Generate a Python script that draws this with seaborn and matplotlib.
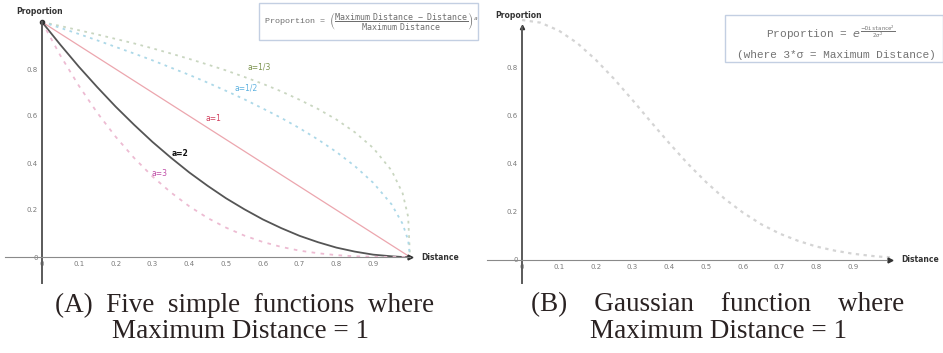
import numpy as np
import pandas as pd
import matplotlib
matplotlib.use("Agg")
import matplotlib.pyplot as plt
from matplotlib.patches import Rectangle
import seaborn as sns

# --- data ---
distance = [0, 0.05, 0.1, 0.15, 0.2, 0.25, 0.3, 0.35, 0.4, 0.45, 0.5, 0.55,
            0.6, 0.65, 0.7, 0.75, 0.8, 0.85, 0.9, 0.95, 0.98, 0.995, 1.0]
prop_a_third = [1, 0.983, 0.965, 0.947, 0.928, 0.909, 0.888, 0.866, 0.843, 0.819, 0.794, 0.766,
                0.737, 0.705, 0.669, 0.630, 0.585, 0.531, 0.464, 0.368, 0.271, 0.171, 0]
prop_a_half = [1, 0.975, 0.949, 0.922, 0.894, 0.866, 0.837, 0.806, 0.775, 0.742, 0.707, 0.671,
               0.632, 0.592, 0.548, 0.500, 0.447, 0.387, 0.316, 0.224, 0.141, 0.071, 0]
prop_a_1 = [1, 0.95, 0.90, 0.85, 0.80, 0.75, 0.70, 0.65, 0.60, 0.55, 0.50, 0.45,
            0.40, 0.35, 0.30, 0.25, 0.20, 0.15, 0.10, 0.05, 0.02, 0.005, 0]
prop_a_2 = [1, 0.903, 0.810, 0.723, 0.640, 0.563, 0.490, 0.423, 0.360, 0.303, 0.250, 0.203,
            0.160, 0.123, 0.090, 0.063, 0.040, 0.023, 0.010, 0.003, 0, 0, 0]
prop_a_3 = [1, 0.857, 0.729, 0.614, 0.512, 0.422, 0.343, 0.275, 0.216, 0.166, 0.125, 0.091,
            0.064, 0.043, 0.027, 0.016, 0.008, 0.003, 0.001, 0, 0, 0, 0]
prop_gauss = [1, 0.989, 0.956, 0.904, 0.835, 0.755, 0.667, 0.576, 0.487, 0.402, 0.325, 0.256,
              0.198, 0.149, 0.110, 0.080, 0.056, 0.039, 0.026, 0.017, 0.013, 0.012, 0.011]

curve_labels = ["a=1/3", "a=1/2", "a=1", "a=2", "a=3"]
label_x = [0.59, 0.555, 0.465, 0.375, 0.318]
label_y = [0.81, 0.72, 0.59, 0.44, 0.355]

x_ticks = [0, 0.1, 0.2, 0.3, 0.4, 0.5, 0.6, 0.7, 0.8, 0.9]
y_ticks = [0, 0.2, 0.4, 0.6, 0.8]

# --- style ---
sns.set_style("white")
plt.rcParams["font.family"] = ["DejaVu Sans"]

W, H = 943, 353
fig = plt.figure(figsize=(W / 100, H / 100), dpi=100)


def fx(px):
    return px / W


def fy(py):
    return 1 - py / H


def setup_axis(ax):
    for s in ["top", "right"]:
        ax.spines[s].set_visible(False)
    ax.spines["left"].set_position(("data", 0))
    ax.spines["bottom"].set_position(("data", 0))
    ax.spines["left"].set_color("#5a5a5a")
    ax.spines["left"].set_linewidth(1.4)
    ax.spines["bottom"].set_color("#8a8a8a")
    ax.spines["bottom"].set_linewidth(0.8)
    ax.set_xticks(x_ticks)
    ax.set_xticklabels([f"{t:g}" for t in x_ticks])
    ax.set_yticks(y_ticks)
    ax.set_yticklabels([f"{t:g}" for t in y_ticks])
    ax.tick_params(direction="inout", length=3, width=0.6, colors="#8a8a8a",
                   labelsize=5, pad=1.5, labelcolor="#7a7a7a")
    ax.set_facecolor("none")
    ax.plot(1.0, 0, marker=">", ms=3.5, color="#333333", clip_on=False)
    ax.set_xlabel("")
    ax.set_ylabel("")


# ---------- panel A ----------
axA = fig.add_axes([0, fy(290), fx(470), 290 / H])
axA.set_xlim((0 - 42) / 368, (470 - 42) / 368)
axA.set_ylim((257 - 290) / 235, 257 / 235)

styles = [
    (prop_a_third, "#c9d6c0", (0, (1.5, 2.5)), 1.3),
    (prop_a_half, "#acd8e8", (0, (1.5, 2.5)), 1.3),
    (prop_a_1, "#eca6ae", "-", 0.9),
    (prop_a_2, "#555555", "-", 1.3),
    (prop_a_3, "#edbbd2", (0, (2, 3)), 1.3),
]
for vals, col, ls, lw in styles:
    sns.lineplot(x=distance, y=vals, ax=axA, color=col, linestyle=ls, lw=lw)

label_colors = ["#7d9450", "#5fb2e0", "#d2405e", "#111111", "#c04fa8"]
for lab, lx, ly, lc in zip(curve_labels, label_x, label_y, label_colors):
    axA.text(lx, ly, lab, fontsize=5.5, color=lc, ha="center", va="center",
             fontweight="bold" if lab == "a=2" else "normal")

setup_axis(axA)
axA.spines["left"].set_bounds(-0.11, 1.0)
axA.spines["bottom"].set_bounds(-0.1, 1.0)
axA.plot(0, 1.0, marker="o", ms=3, color="#333333", clip_on=False)
axA.text(-0.07, 1.043, "Proportion", fontsize=5.5, fontweight="bold",
         color="#333333", va="center", ha="left")
axA.text(1.03, 0, "Distance", fontsize=5.5, fontweight="bold",
         color="#333333", va="center", ha="left")

# ---------- panel B ----------
axB = fig.add_axes([fx(480), fy(290), fx(463), 290 / H])
axB.set_xlim((480 - 522) / 368, (943 - 522) / 368)
axB.set_ylim((260 - 290) / 240, 260 / 240)

sns.lineplot(x=distance, y=prop_gauss, ax=axB, color="#d4d4d4",
             linestyle=(0, (1.5, 2)), lw=1.6)

setup_axis(axB)
axB.spines["left"].set_bounds(-0.095, 0.97)
axB.spines["bottom"].set_bounds(-0.095, 0.99)
axB.plot(0, 0.97, marker="^", ms=3, color="#333333", clip_on=False)
axB.text(-0.073, 1.017, "Proportion", fontsize=5.5, fontweight="bold",
         color="#333333", va="center", ha="left")
axB.text(1.03, 0, "Distance", fontsize=5.5, fontweight="bold",
         color="#333333", va="center", ha="left")

# ---------- formula boxes ----------
mono = ["Liberation Mono", "DejaVu Sans Mono"]
fig.add_artist(Rectangle((fx(259), fy(40)), fx(478 - 259), (40 - 3) / H,
                         transform=fig.transFigure, fill=False,
                         edgecolor="#c3cfe2", lw=1))
fig.text(fx(264), fy(22),
         r"Proportion = $\left(\dfrac{\mathtt{Maximum\ Distance\ -\ Distance}}"
         r"{\mathtt{Maximum\ Distance}}\right)^{a}$",
         fontsize=6, family=mono, color="#6e6e6e", va="center", ha="left")

fig.add_artist(Rectangle((fx(725), fy(62)), fx(943 - 725), (62 - 15) / H,
                         transform=fig.transFigure, fill=False,
                         edgecolor="#c3cfe2", lw=1))
fig.text(fx(766), fy(33),
         r"Proportion = $e^{\frac{-\mathtt{Distance}^2}{2\sigma^2}}$",
         fontsize=8, family=mono, color="#737373", va="center", ha="left")
fig.text(fx(737), fy(55), "(where 3*σ = Maximum Distance)",
         fontsize=8, family=mono, color="#737373", va="center", ha="left")

# ---------- captions ----------
cap_kw = dict(fontsize=19.5, family=["Liberation Serif", "DejaVu Serif"],
              color="#2a2222", ha="center", va="center")
fig.text(fx(245), fy(305), "(A)  Five  simple  functions  where", **cap_kw)
fig.text(fx(241), fy(332), "Maximum Distance = 1", **cap_kw)
fig.text(fx(718), fy(305), "(B)    Gaussian    function    where", **cap_kw)
fig.text(fx(718), fy(332), "Maximum Distance = 1", **cap_kw)

fig.savefig("out.png", dpi=100)
